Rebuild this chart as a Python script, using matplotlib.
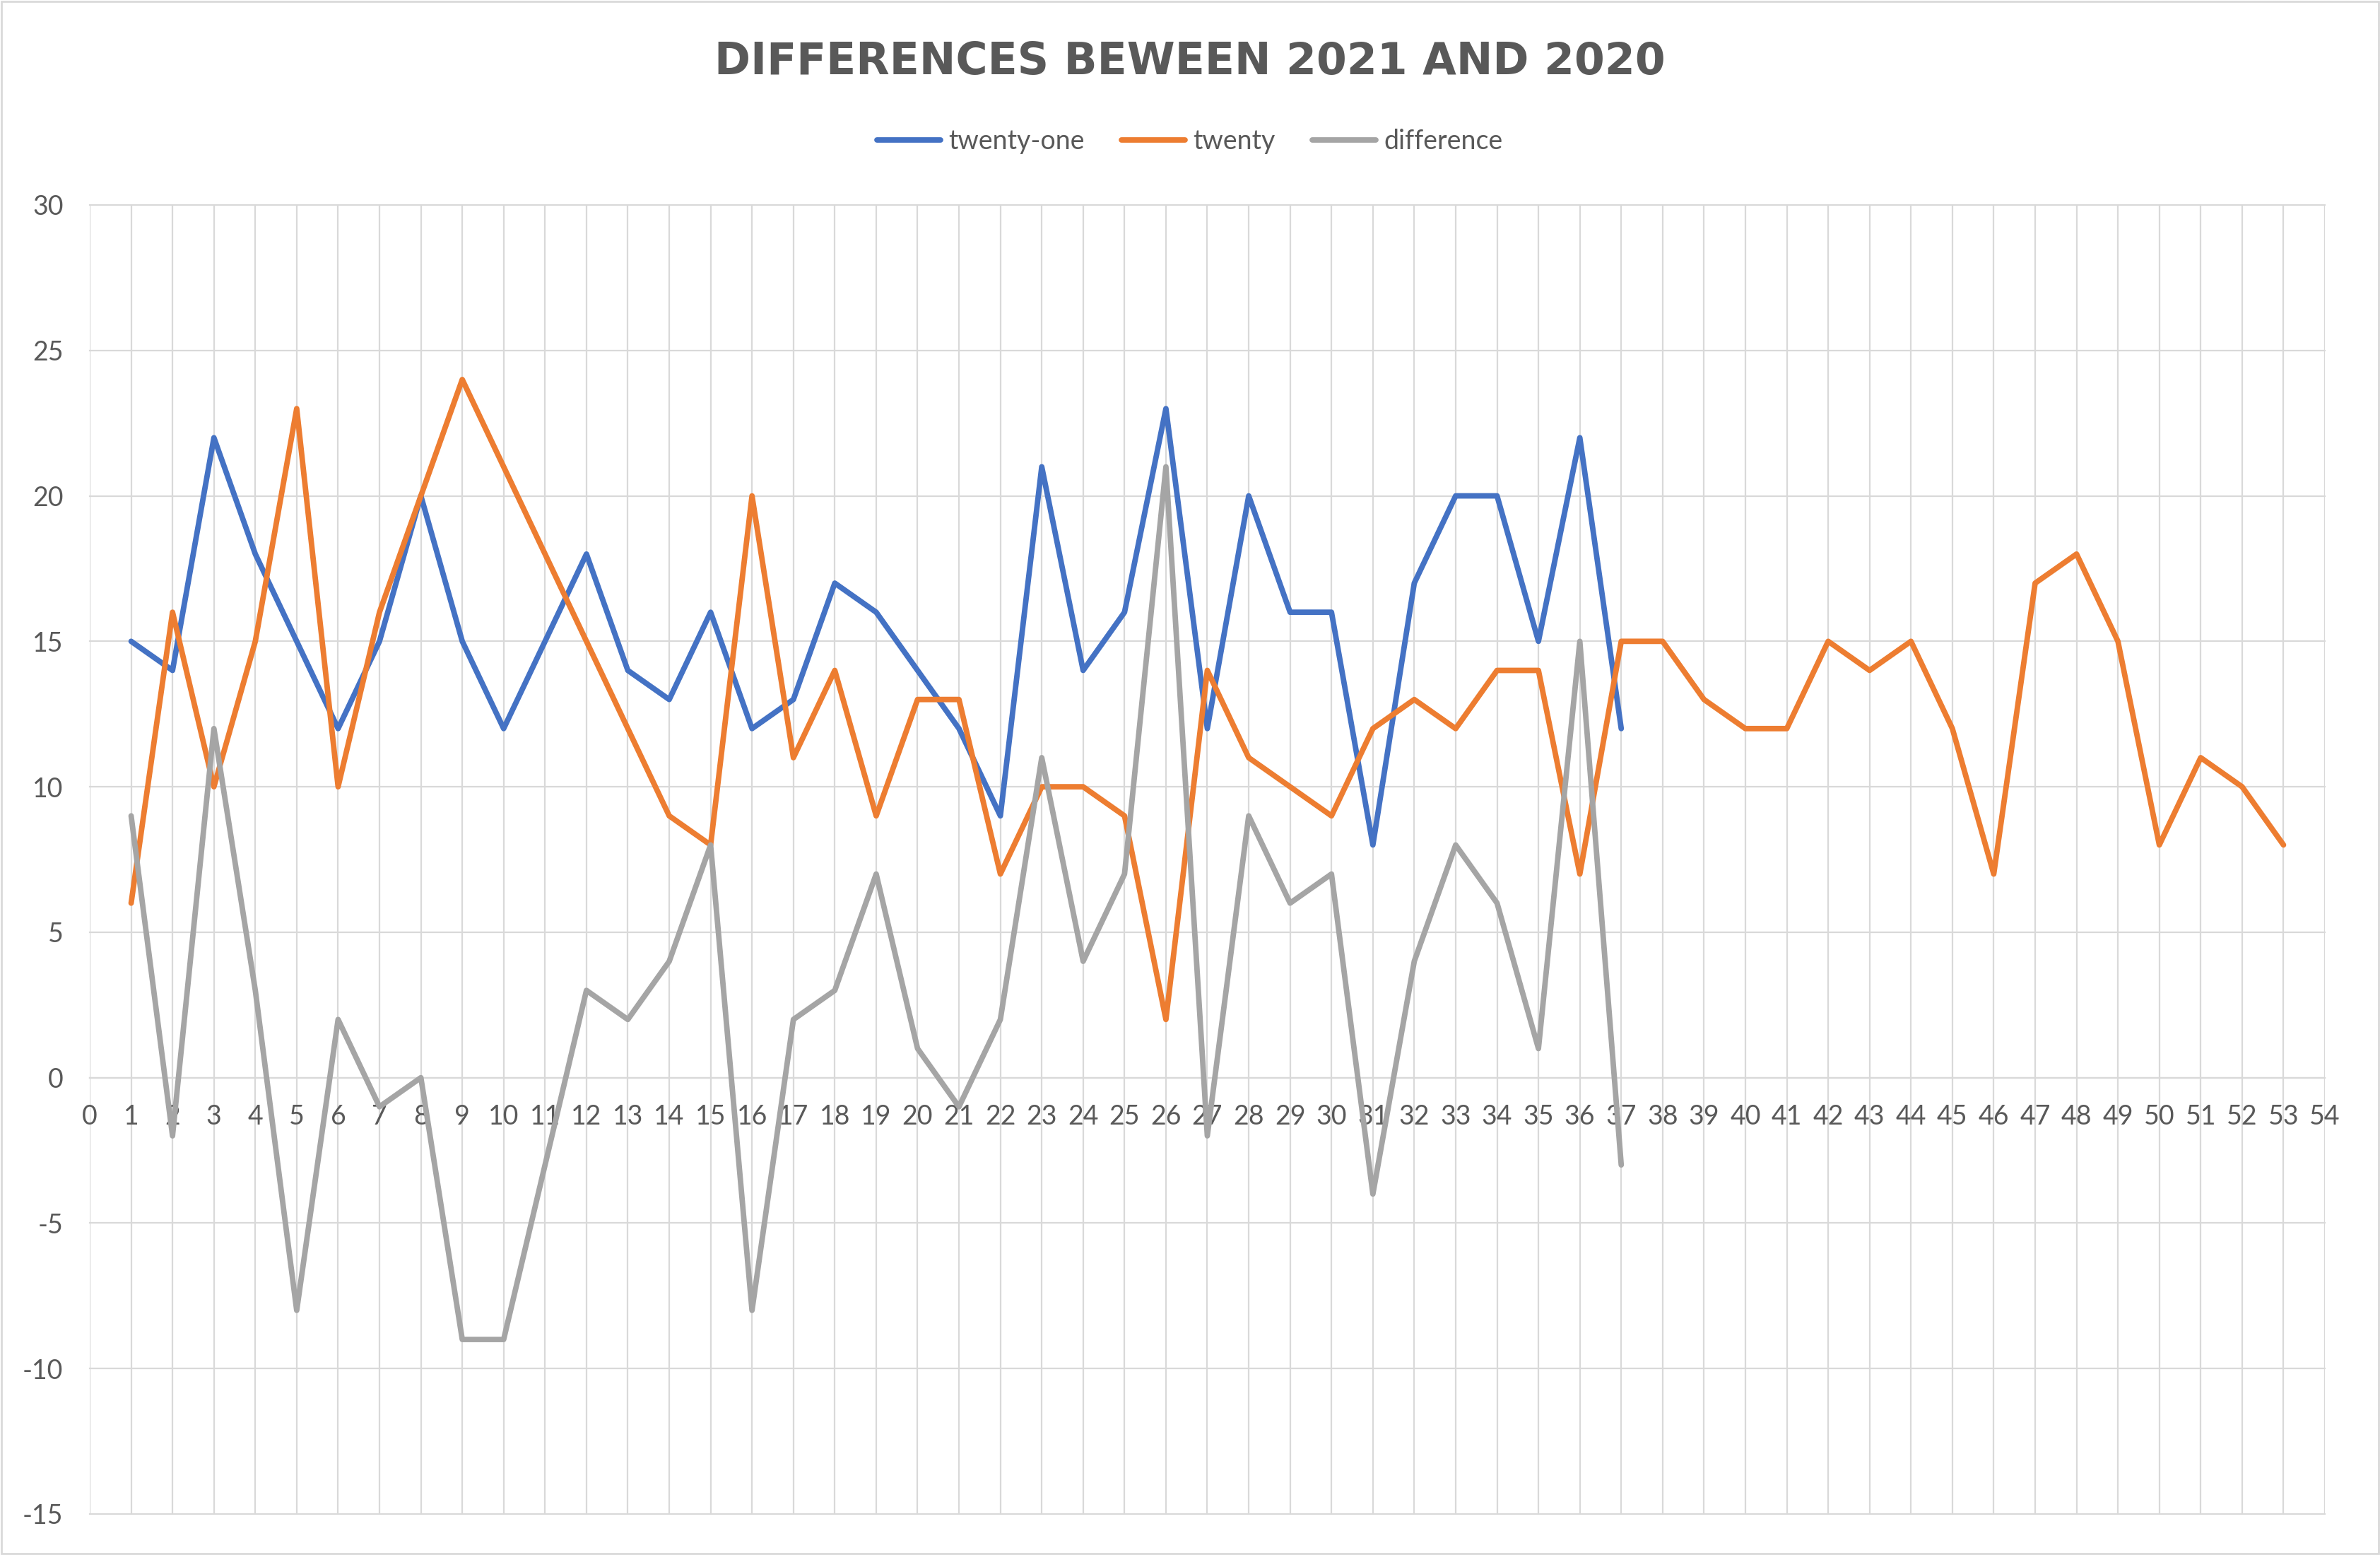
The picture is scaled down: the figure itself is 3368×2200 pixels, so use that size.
import matplotlib
matplotlib.use("Agg")
import matplotlib.pyplot as plt
from matplotlib.patches import Rectangle

# ---- data ----
weeks_21 = list(range(1, 38))
twenty_one = [15, 14, 22, 18, 15, 12, 15, 20, 15, 12, 15, 18, 14, 13, 16, 12, 13, 17, 16, 14,
              12, 9, 21, 14, 16, 23, 12, 20, 16, 16, 8, 17, 20, 20, 15, 22, 12]
weeks_20 = list(range(1, 54))
twenty = [6, 16, 10, 15, 23, 10, 16, 20, 24, 21, 18, 15, 12, 9, 8, 20, 11, 14, 9, 13,
          13, 7, 10, 10, 9, 2, 14, 11, 10, 9, 12, 13, 12, 14, 14, 7, 15, 15, 13, 12,
          12, 15, 14, 15, 12, 7, 17, 18, 15, 8, 11, 10, 8]
weeks_diff = list(range(1, 38))
difference = [9, -2, 12, 3, -8, 2, -1, 0, -9, -9, -3, 3, 2, 4, 8, -8, 2, 3, 7, 1,
              -1, 2, 11, 4, 7, 21, -2, 9, 6, 7, -4, 4, 8, 6, 1, 15, -3]
x_ticks = list(range(0, 55))
y_ticks = list(range(-15, 31, 5))
title = "DIFFERENCES BEWEEN 2021 AND 2020"
series_names = ["twenty-one", "twenty", "difference"]

# ---- style ----
TXT = "#595959"
GRID = "#D9D9D9"
BLUE, ORANGE, GREY = "#4472C4", "#ED7D31", "#A5A5A5"
plt.rcParams["font.family"] = ["Lato", "DejaVu Sans"]
plt.rcParams["axes.unicode_minus"] = False

W, H, DPI = 3368, 2200, 200
fig = plt.figure(figsize=(W / DPI, H / DPI), dpi=DPI)
ax = fig.add_axes([127 / W, 1 - 2142 / H, (3290 - 127) / W, (2142 - 290) / H])

lw = 2.8
kw = dict(linewidth=lw, solid_joinstyle="round", solid_capstyle="round")
ax.plot(weeks_21, twenty_one, color=BLUE, label=series_names[0], zorder=3, **kw)
ax.plot(weeks_20, twenty, color=ORANGE, label=series_names[1], zorder=3, **kw)
ax.plot(weeks_diff, difference, color=GREY, label=series_names[2], zorder=3, **kw)

ax.set_xlim(0, 54)
ax.set_ylim(-15, 30)
ax.set_xticks(x_ticks)
ax.set_yticks(y_ticks)
ax.grid(True, color=GRID, linewidth=0.8)
ax.set_axisbelow(True)
for ln in ax.get_xgridlines() + ax.get_ygridlines():
    ln.set_clip_on(False)

for s in ["top", "left", "right"]:
    ax.spines[s].set_visible(False)
ax.spines["bottom"].set_position(("data", 0))
ax.spines["bottom"].set_color(GRID)
ax.spines["bottom"].set_linewidth(0.8)

ax.tick_params(axis="x", length=0, pad=13.5, labelsize=13.5, labelcolor=TXT)
ax.tick_params(axis="y", length=0, pad=13.5, labelsize=13.5, labelcolor=TXT)

fig.text(0.5, 1 - 88 / H, title, ha="center", va="center", fontsize=22.2,
         fontweight="bold", color=TXT, family=["DejaVu Sans"])

leg = fig.legend(loc="center", bbox_to_anchor=(0.5, 1 - 200 / H), ncol=3, frameon=False,
                 fontsize=13.5, handlelength=2.4, handletextpad=0.3, columnspacing=1.4)
for t in leg.get_texts():
    t.set_color(TXT)

fig.patches.append(Rectangle((2 / W, 2 / H), 1 - 4 / W, 1 - 4 / H, transform=fig.transFigure,
                             fill=False, edgecolor=GRID, linewidth=1.0))

fig.savefig("out.png", dpi=DPI, facecolor="white")
